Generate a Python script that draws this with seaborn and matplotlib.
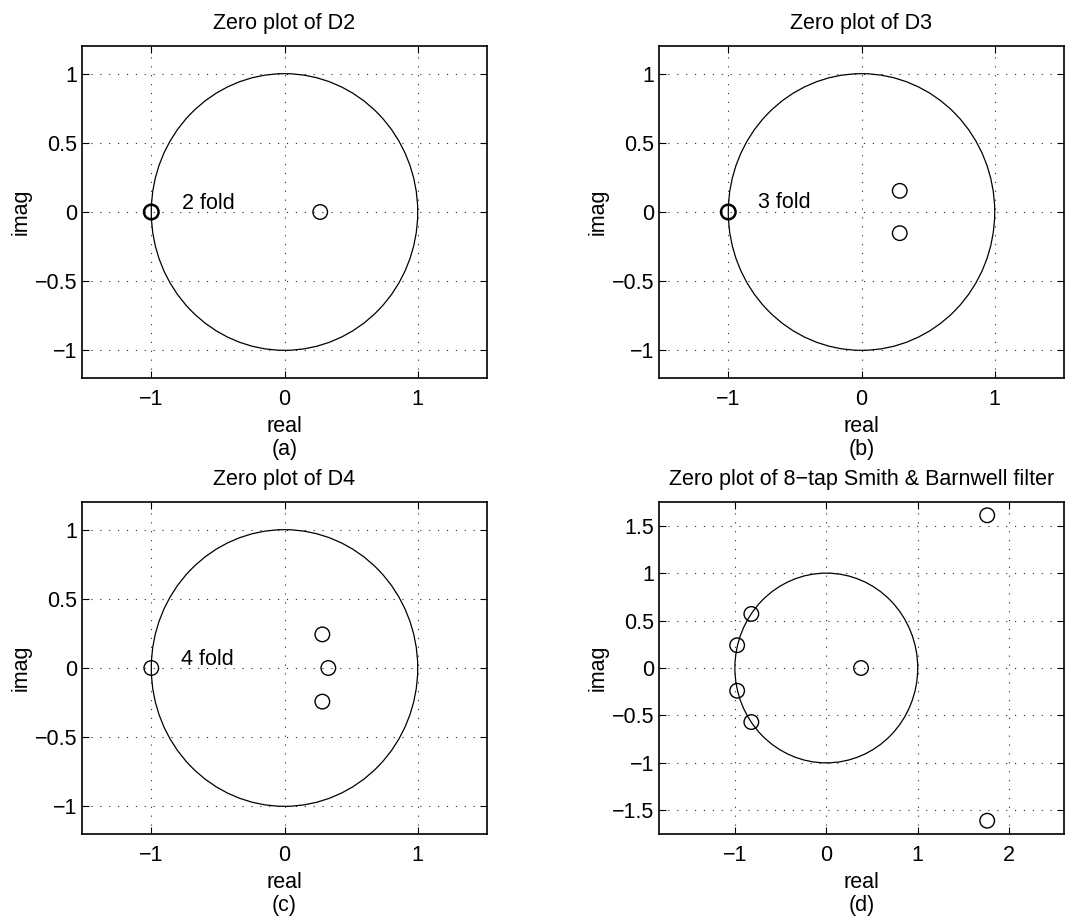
import numpy as np
import pandas as pd
import matplotlib
matplotlib.use('Agg')
import matplotlib.pyplot as plt
import seaborn as sns

# ----------- Zeros -----------
# multiple zeros at z = -1 are kept apart (drawn bold in D2 / D3)
d2_real = [0.268]
d2_imag = [0.0]
d2_fold = 2

d3_real = [0.287, 0.287]
d3_imag = [0.153, -0.153]
d3_fold = 3

d4_real = [-1.0, 0.284, 0.329, 0.284]
d4_imag = [0.0, 0.243, 0.0, -0.243]
d4_fold = 4

sb_real = [1.76, 1.76, -0.82, -0.82, -0.975, -0.975, 0.38]
sb_imag = [1.61, -1.61, 0.57, -0.57, 0.24, -0.24, 0.0]

titles = ['Zero plot of D2', 'Zero plot of D3', 'Zero plot of D4',
          'Zero plot of 8\u2212tap Smith & Barnwell filter']
panel_tags = ['(a)', '(b)', '(c)', '(d)']
folds = [d2_fold, d3_fold, d4_fold, None]
bold_minus_one = [True, True, False, False]
fold_pos = [(-0.77, 0.06), (-0.78, 0.07), (-0.78, 0.06), None]

xlims = [(-1.52, 1.52), (-1.52, 1.52), (-1.52, 1.52), (-1.83, 2.6)]
ylims = [(-1.2, 1.2), (-1.2, 1.2), (-1.2, 1.2), (-1.75, 1.75)]
yticks = [[-1, -0.5, 0, 0.5, 1]] * 3 + [[-1.5, -1, -0.5, 0, 0.5, 1, 1.5]]
xticks = [[-1, 0, 1]] * 3 + [[-1, 0, 1, 2]]
ytick_labels = [['\u22121', '\u22120.5', '0', '0.5', '1']] * 3 + \
    [['\u22121.5', '\u22121', '\u22120.5', '0', '0.5', '1', '1.5']]
xtick_labels = [['\u22121', '0', '1']] * 3 + [['\u22121', '0', '1', '2']]

zeros = [(d2_real, d2_imag), (d3_real, d3_imag), (d4_real, d4_imag), (sb_real, sb_imag)]

sns.set_theme(style='white')
plt.rcParams['font.family'] = ['Liberation Sans', 'DejaVu Sans']
plt.rcParams['text.color'] = 'black'
plt.rcParams['axes.labelcolor'] = 'black'
plt.rcParams['xtick.color'] = 'black'
plt.rcParams['ytick.color'] = 'black'

fs = 15.5
ms = 110
fig = plt.figure(figsize=(10.88, 9.23), dpi=100)
positions = [
    [82 / 1088, 545 / 923, 405 / 1088, 332 / 923],
    [659 / 1088, 545 / 923, 405 / 1088, 332 / 923],
    [82 / 1088, 89 / 923, 405 / 1088, 332 / 923],
    [659 / 1088, 89 / 923, 405 / 1088, 332 / 923],
]

for i in range(4):
    ax = fig.add_axes(positions[i])
    df = pd.DataFrame({'real': zeros[i][0], 'imag': zeros[i][1]})
    ax.add_patch(plt.Circle((0, 0), 1, fill=False, color='black', lw=0.9))
    sns.scatterplot(data=df, x='real', y='imag', ax=ax, marker='o', s=ms,
                    facecolors='none', edgecolor='black', linewidth=1.0, zorder=3)
    if bold_minus_one[i]:
        df_m = pd.DataFrame({'real': [-1.0], 'imag': [0.0]})
        sns.scatterplot(data=df_m, x='real', y='imag', ax=ax, marker='o', s=ms,
                        facecolors='none', edgecolor='black', linewidth=1.8, zorder=3)
    ax.set_xlim(*xlims[i])
    ax.set_ylim(*ylims[i])
    ax.set_xticks(xticks[i])
    ax.set_xticklabels(xtick_labels[i], fontsize=fs)
    ax.set_yticks(yticks[i])
    ax.set_yticklabels(ytick_labels[i], fontsize=fs)
    ax.tick_params(direction='in', length=5, width=0.8, top=True, right=True,
                   bottom=True, left=True, color='black')
    ax.tick_params(axis='x', pad=8)
    ax.tick_params(axis='y', pad=3.5)
    ax.grid(True, linestyle=(0, (1, 7)), color='black', linewidth=0.8, alpha=0.85)
    for sp in ax.spines.values():
        sp.set_color('black')
        sp.set_linewidth(1.2)
    ax.set_title(titles[i], fontsize=fs, pad=12)
    ax.set_xlabel('real\n' + panel_tags[i], fontsize=fs, linespacing=1.15, labelpad=4)
    ax.set_ylabel('imag', fontsize=fs, labelpad=2)
    if folds[i]:
        ax.text(fold_pos[i][0], fold_pos[i][1], f'{folds[i]} fold', fontsize=fs,
                va='center', ha='left')

fig.savefig('out.png', dpi=100, facecolor='white')
